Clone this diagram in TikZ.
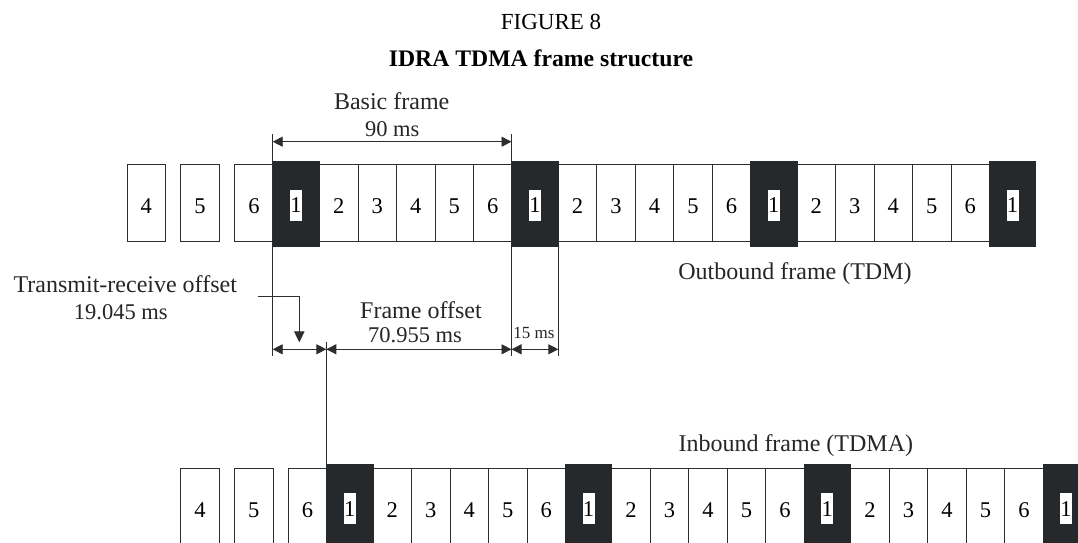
\documentclass[tikz,border=0pt]{standalone}
\usepackage{fontspec}
\setmainfont{Liberation Serif}
\usetikzlibrary{arrows.meta,calc}
\definecolor{slotfill}{RGB}{38,41,44}
\definecolor{linec}{RGB}{45,45,45}
\begin{document}
\begin{tikzpicture}[x=1pt,y=-1pt,
  wslot/.style={draw=linec, line width=0.9pt, fill=white, minimum width=38.5pt, minimum height=76.7pt, inner sep=0pt, anchor=north west, font=\fontsize{22.5}{26}\selectfont, text height=21pt, text depth=0pt},
  bslot/.style={draw=slotfill, line width=0.5pt, fill=slotfill, minimum width=46.3pt, minimum height=85pt, inner sep=0pt, anchor=north west},
  onelab/.style={fill=white, minimum width=12pt, minimum height=30.7pt, inner sep=0pt, font=\fontsize{22.5}{26}\selectfont},
  lbl/.style={font=\fontsize{24}{28}\selectfont, anchor=base, inner sep=0pt, text=black!85},
  num/.style={font=\fontsize{22.5}{26}\selectfont, anchor=base, inner sep=0pt, text=black!85},
  extline/.style={draw=linec, line width=0.9pt},
  dim/.style={draw=linec, line width=0.9pt, {Triangle[length=10pt,width=10pt]}-{Triangle[length=10pt,width=10pt]}},
  pointer/.style={draw=linec, line width=0.9pt, -{Triangle[length=11pt,width=10.5pt]}}]
\useasboundingbox (0,0) rectangle (1078,543);
\fill[white] (0,0) rectangle (1078,543);

% titles
\node[font=\fontsize{23}{27}\selectfont, anchor=base, inner sep=0pt] (fig) at (551,30) {FIGURE 8};
\node[font=\bfseries\fontsize{23.7}{27}\selectfont, anchor=base, inner sep=0pt] (ttl) at (541,66.5) {IDRA TDMA frame structure};

% ---------- outbound row ----------
\node[wslot] (oa4) at (126.6,164.3) {4};
\node[wslot] (oa5) at (180.4,164.3) {5};
\node[wslot] (oa6) at (234.2,164.3) {6};
\foreach \k in {0,1,2} {
  \foreach \j in {2,...,6} {
    \pgfmathsetmacro\wx{272.7+238.8*\k+46.3+38.5*(\j-2)}
    \node[wslot] (ow\k-\j) at (\wx,164.3) {\j};
  }
}
\foreach \k in {0,1,2,3} {
  \pgfmathsetmacro\bx{272.7+238.8*\k}
  \node[bslot] (ob\k) at (\bx,160.7) {};
  \node[onelab] (obl\k) at ($(ob\k.center)+(0,2)$) {1};
}

% ---------- inbound row ----------
\node[wslot] (ia4) at (180.2,468) {4};
\node[wslot] (ia5) at (234.0,468) {5};
\node[wslot] (ia6) at (287.8,468) {6};
\foreach \k in {0,1,2} {
  \foreach \j in {2,...,6} {
    \pgfmathsetmacro\wx{326.3+238.8*\k+46.3+38.5*(\j-2)}
    \node[wslot] (iw\k-\j) at (\wx,468) {\j};
  }
}
\foreach \k in {0,1,2,3} {
  \pgfmathsetmacro\bx{326.3+238.8*\k}
  \node[bslot] (ib\k) at (\bx,464) {};
  \node[onelab] (ibl\k) at ($(ib\k.center)+(0,2)$) {1};
}

% ---------- helper coordinates ----------
\coordinate (extt) at (0,134);
\coordinate (extb) at (0,356);
\coordinate (d90y) at (0,141.7);
\coordinate (dimy) at (0,349.3);
\coordinate (midtop) at (326.3,341.7);

% extension lines
\draw[extline] (ob0.north west |- extt) -- (ob0.north west |- extb);
\draw[extline] (ob1.north west |- extt) -- (ob1.north west |- extb);
\draw[extline] (ob1.south east) -- (ob1.south east |- extb);
\draw[extline] (midtop) -- (ib0.north west);

% dimension arrows
\draw[dim] (ob0.north west |- d90y) -- (ob1.north west |- d90y);
\draw[dim] (ob0.north west |- dimy) -- (ib0.north west |- dimy);
\draw[dim] (ib0.north west |- dimy) -- (ob1.north west |- dimy);
\draw[dim] (ob1.north west |- dimy) -- (ob1.south east |- dimy);

% pointer for transmit-receive offset
\coordinate (trs) at (257.7,296.7);
\coordinate (trt) at (299.3,342.3);
\draw[pointer] (trs) -| (trt);

% labels
\node[lbl] (basic) at (391.7,109.3) {Basic frame};
\node[num] (n90) at (392.2,136.7) {90 ms};
\node[lbl] (outb) at (795,279.3) {Outbound frame (TDM)};
\node[lbl] (trl) at (125.3,292.7) {Transmit-receive offset};
\node[num] (trv) at (120.8,319.3) {19.045 ms};
\node[lbl] (fol) at (421,318) {Frame offset};
\node[num] (fov) at (415,342.7) {70.955 ms};
\node[font=\fontsize{17}{20}\selectfont, anchor=base, inner sep=0pt, text=black!85] (n15) at (534,338.3) {15 ms};
\node[lbl] (inb) at (795.8,451.7) {Inbound frame (TDMA)};
\end{tikzpicture}
\end{document}
